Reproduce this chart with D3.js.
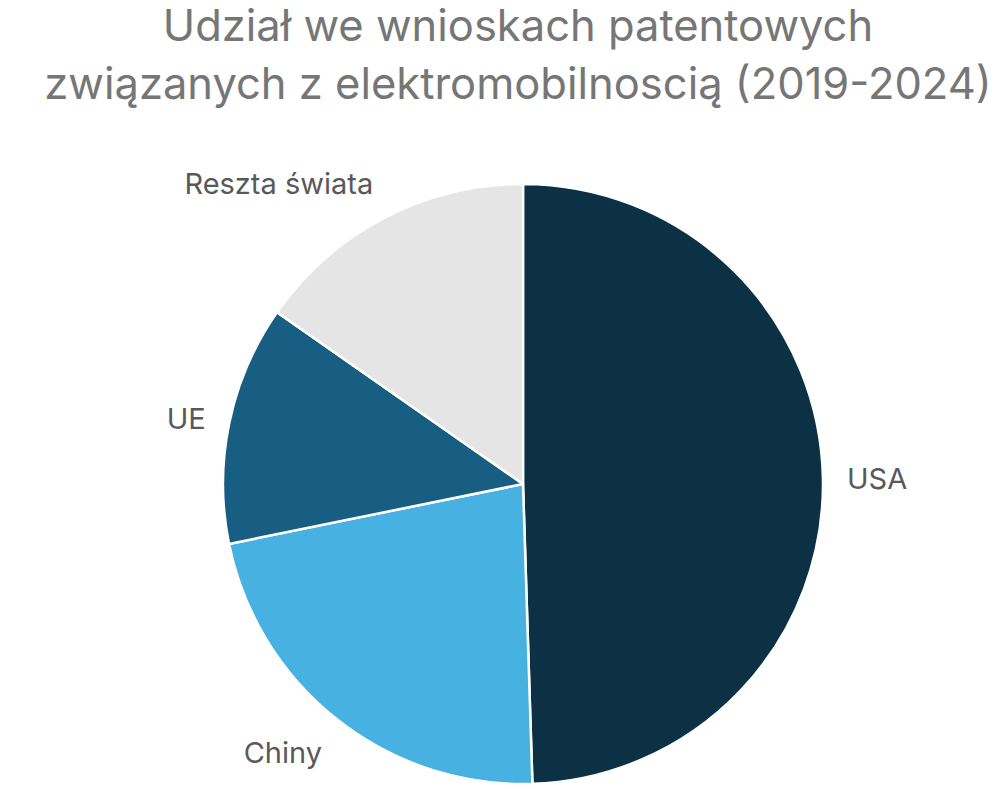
<!DOCTYPE html>
<html><head><meta charset="utf-8">
<script src="https://cdn.jsdelivr.net/npm/d3@7"></script>
<style>html,body{margin:0;padding:0;background:#fff;}svg{display:block;}</style>
</head><body>
<svg id="chart" width="1004" height="789"></svg>
<script>
const titleLines = ["Udział we wnioskach patentowych", "związanych z elektromobilnoscią (2019-2024)"];
const categories = ["USA", "Chiny", "UE", "Reszta świata"];
const values = [49.5, 22.3, 12.9, 15.3];
const colors = ["#0c3144", "#47b1e1", "#175e82", "#e5e5e5"];

const svg = d3.select("#chart");
const cx = 523, cy = 484, R = 300;
const font = "Inter, 'Noto Sans', sans-serif";

const title = svg.append("g");
titleLines.forEach((t, i) => {
  title.append("text")
    .attr("x", 518).attr("y", 41 + i * 58)
    .attr("text-anchor", "middle")
    .attr("font-family", font).attr("font-size", 43.5)
    .attr("fill", "#767676")
    .text(t);
});

const data = categories.map((c, i) => ({ name: c, value: values[i], color: colors[i] }));
const pie = d3.pie().value(d => d.value).sort(null);
const arcs = pie(data);
const arc = d3.arc().innerRadius(0).outerRadius(R);

const g = svg.append("g").attr("transform", `translate(${cx},${cy})`);
g.selectAll("path").data(arcs).join("path")
  .attr("d", arc)
  .attr("fill", d => d.data.color)
  .attr("stroke", "#fff")
  .attr("stroke-width", 2.5)
  .attr("stroke-linejoin", "round");

const rl = 324;
g.selectAll("text.lab").data(arcs).join("text")
  .attr("class", "lab")
  .each(function(d) {
    const a = (d.startAngle + d.endAngle) / 2;
    const s = Math.sin(a), c = Math.cos(a);
    const x = rl * s, y = -rl * c;
    const anchor = s > 0.15 ? "start" : (s < -0.15 ? "end" : "middle");
    let dy;
    if (c > 0.5) dy = "-0.1em";
    else if (c < -0.5) dy = "0.85em";
    else dy = "0.36em";
    d3.select(this).attr("x", x).attr("y", y).attr("dy", dy)
      .attr("text-anchor", anchor);
  })
  .attr("font-family", font).attr("font-size", 29)
  .attr("fill", "#595959")
  .text(d => d.data.name);
</script>
</body></html>
